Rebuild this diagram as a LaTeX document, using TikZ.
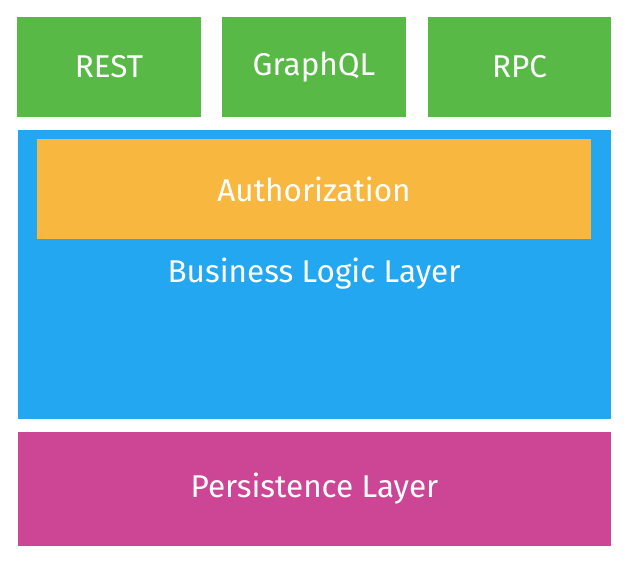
\documentclass[tikz,border=0pt]{standalone}
\usepackage{fontspec}
\setmainfont{Fira Sans}
\definecolor{cgreen}{HTML}{58B947}
\definecolor{cblue}{HTML}{23A7F1}
\definecolor{corange}{HTML}{F8B73F}
\definecolor{cmag}{HTML}{CC4695}
\begin{document}
\begin{tikzpicture}[x=1pt,y=-1pt,
  lbl/.style={text=white,font=\fontsize{31.5}{36}\selectfont},
  box/.style={lbl,draw=none,inner sep=0pt,outer sep=0pt,anchor=north west}]
\useasboundingbox (0,0) rectangle (643,571);
\fill[white] (0,0) rectangle (643,571);
\node[box,fill=cgreen,minimum width=184pt,minimum height=100pt] (rest) at (17,17) {REST};
\node[box,fill=cgreen,minimum width=184pt,minimum height=100pt] (graphql) at (222,17) {GraphQL};
\node[box,fill=cgreen,minimum width=183pt,minimum height=100pt] (rpc) at (428,17) {RPC};
\node[box,fill=cblue,minimum width=593pt,minimum height=289pt] (blue) at (18,130) {};
\node[box,fill=corange,minimum width=554pt,minimum height=100pt] (auth) at (37,139) {Authorization};
\node[lbl,inner sep=0pt] (bll) at (314,274) {Business Logic Layer};
\node[box,fill=cmag,minimum width=593pt,minimum height=114pt] (pers) at (18,432) {Persistence Layer};
\end{tikzpicture}
\end{document}
